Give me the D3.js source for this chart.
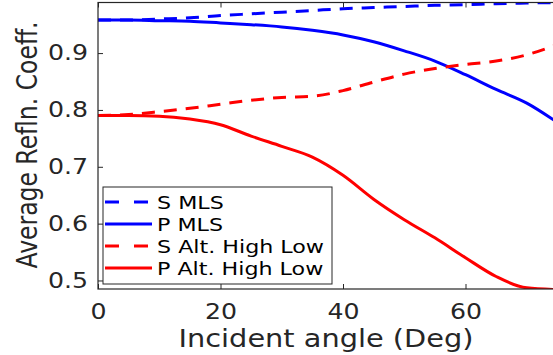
<!DOCTYPE html>
<html>
<head>
<meta charset="utf-8">
<script src="https://cdn.jsdelivr.net/npm/d3@7"></script>
<style>
body { margin: 0; background: #fff; }
svg { display: block; font-family: "DejaVu Sans", sans-serif; }
</style>
</head>
<body>
<svg id="chart" width="553" height="355"></svg>
<script>
// incident angle (deg)
var angles = [0, 5, 10, 15, 20, 25, 30, 35, 40, 45, 50, 55, 60, 65, 70, 75];
var sMLS   = [0.958, 0.958, 0.960, 0.962, 0.966, 0.969, 0.972, 0.975, 0.978, 0.980, 0.982, 0.984, 0.985, 0.987, 0.988, 0.989];
var pMLS   = [0.958, 0.958, 0.957, 0.956, 0.953, 0.950, 0.946, 0.940, 0.932, 0.920, 0.904, 0.886, 0.862, 0.836, 0.812, 0.778];
var sAlt   = [0.790, 0.792, 0.797, 0.803, 0.810, 0.817, 0.822, 0.824, 0.834, 0.849, 0.863, 0.873, 0.880, 0.886, 0.897, 0.915];
var pAlt   = [0.790, 0.790, 0.789, 0.784, 0.774, 0.754, 0.736, 0.717, 0.685, 0.643, 0.607, 0.575, 0.540, 0.507, 0.487, 0.484];

var seriesNames = ["S MLS", "P MLS", "S Alt. High Low", "P Alt. High Low"];
var seriesColors = ["#0000ff", "#0000ff", "#ff0000", "#ff0000"];
var seriesDash = [true, false, true, false];
var seriesVals = [sMLS, pMLS, sAlt, pAlt];

var xTicks = [0, 20, 40, 60];
var yTicks = [0.5, 0.6, 0.7, 0.8, 0.9];

var svg = d3.select("#chart");
var pLeft = 98, pTop = 2.5, pBottom = 289;
var stretch = 1.2; // the picture is wider than tall text would be
var axisCol = "#262626";

var x = d3.scaleLinear().domain([0, 90]).range([pLeft, pLeft + 90 * 6.125]);
var y = d3.scaleLinear().domain([0.485, 0.989]).range([pBottom, pTop]);

svg.append("defs").append("clipPath").attr("id", "clip")
  .append("rect").attr("x", pLeft).attr("y", pTop)
  .attr("width", 600).attr("height", pBottom - pTop);

// lines
var line = d3.line()
  .x(function (d) { return x(d[0]); })
  .y(function (d) { return y(d[1]); })
  .curve(d3.curveMonotoneX);

for (var s = 0; s < seriesVals.length; s++) {
  var pts = angles.map(function (a, i) { return [a, seriesVals[s][i]]; });
  svg.append("path")
    .attr("clip-path", "url(#clip)")
    .attr("d", line(pts))
    .attr("fill", "none")
    .attr("stroke", seriesColors[s])
    .attr("stroke-width", 3)
    .attr("stroke-dasharray", seriesDash[s] ? "13,9" : null);
}

// axes
var yAxis = svg.append("g").attr("transform", "translate(" + pLeft + ",0)")
  .call(d3.axisLeft(y).tickValues(yTicks).tickFormat(d3.format(".1f")).tickSizeInner(-5).tickSizeOuter(0).tickPadding(10));
var xAxis = svg.append("g").attr("transform", "translate(0," + pBottom + ")")
  .call(d3.axisBottom(x).tickValues(xTicks).tickSizeInner(-5).tickSizeOuter(0).tickPadding(8));
var xTop = svg.append("g").attr("transform", "translate(0," + pTop + ")")
  .call(d3.axisTop(x).tickValues(xTicks).tickSizeInner(-5).tickSizeOuter(0).tickFormat(""));

[yAxis, xAxis, xTop].forEach(function (g) {
  g.select(".domain").remove();
  g.selectAll(".tick line").attr("stroke", axisCol);
});

yAxis.selectAll(".tick text")
  .attr("x", null)
  .attr("transform", "translate(-10,0) scale(" + stretch + ",1)")
  .attr("font-size", 21).attr("fill", axisCol).attr("font-family", "DejaVu Sans");
xAxis.selectAll(".tick text")
  .attr("y", null).attr("dy", null)
  .attr("transform", "translate(0,30) scale(" + stretch + ",1)")
  .attr("font-size", 21).attr("fill", axisCol).attr("font-family", "DejaVu Sans");

// frame
svg.append("rect")
  .attr("x", pLeft).attr("y", pTop)
  .attr("width", 700).attr("height", pBottom - pTop)
  .attr("fill", "none").attr("stroke", axisCol).attr("stroke-width", 1.2);

// axis labels
svg.append("text")
  .attr("transform", "translate(326,347) scale(" + stretch + ",1)")
  .attr("text-anchor", "middle").attr("font-size", 24).attr("fill", axisCol)
  .text("Incident angle (Deg)");
svg.append("text")
  .attr("transform", "translate(37,145) scale(" + stretch + ",1) rotate(-90)")
  .attr("text-anchor", "middle").attr("font-size", 23.5).attr("fill", axisCol)
  .text("Average Refln. Coeff.");

// legend
var lg = svg.append("g");
lg.append("rect").attr("x", 103).attr("y", 187).attr("width", 229).attr("height", 97)
  .attr("fill", "#fff").attr("stroke", axisCol).attr("stroke-width", 1);
seriesNames.forEach(function (name, i) {
  var cy = 202 + i * 22;
  lg.append("line").attr("x1", 105).attr("x2", 152).attr("y1", cy).attr("y2", cy)
    .attr("stroke", seriesColors[i]).attr("stroke-width", 3)
    .attr("stroke-dasharray", seriesDash[i] ? "14,15" : null);
  lg.append("text")
    .attr("transform", "translate(157," + (cy + 7) + ") scale(" + stretch + ",1)")
    .attr("font-size", 18.5).attr("fill", "#000")
    .text(name);
});
</script>
</body>
</html>
